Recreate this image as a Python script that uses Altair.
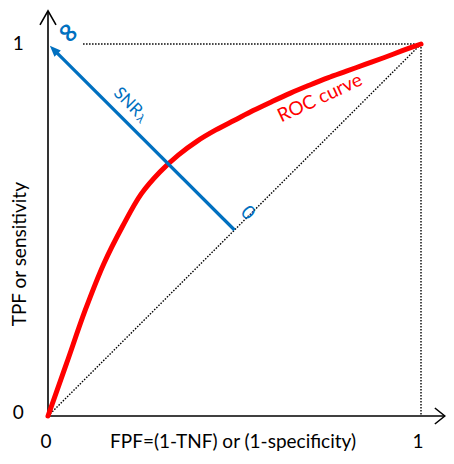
import altair as alt
import pandas as pd

# ROC curve (FPF, TPF)
roc_fpf = [0.0, 0.05, 0.10, 0.15, 0.20, 0.25, 0.30, 0.35, 0.40, 0.45, 0.50,
           0.55, 0.60, 0.65, 0.70, 0.75, 0.80, 0.85, 0.90, 0.95, 1.0]
roc_tpf = [0.0, 0.142, 0.285, 0.41, 0.51, 0.597, 0.656, 0.702, 0.739, 0.769, 0.795,
           0.821, 0.845, 0.868, 0.889, 0.909, 0.927, 0.945, 0.963, 0.982, 1.0]

# SNR arrow from (0.5, 0.5) towards (0, 1)
snr_fpf = [0.5, 0.018]
snr_tpf = [0.5, 0.982]
snr_tip = [0.005, 0.995]

# dotted reference lines: chance diagonal, top and right borders
dot_x = [0.0, 0.094, 1.0]
dot_y = [0.0, 1.0, 1.0]
dot_x2 = [1.0, 1.0, 1.0]
dot_y2 = [1.0, 1.0, 0.0]

# tick labels
tick_labels = ["0", "1"]

FONT = "Lato"
BLUE = "#0070C0"
RED = "#FF0000"

xs = alt.Scale(domain=[0, 1], nice=False, zero=False)
ys = alt.Scale(domain=[0, 1], nice=False, zero=False)


def X(f, **k):
    return alt.X(f, type="quantitative", scale=xs, axis=None, **k)


def Y(f, **k):
    return alt.Y(f, type="quantitative", scale=ys, axis=None, **k)


# axes lines (with arrow ends)
axes_df = pd.DataFrame({"x": [0.0, 0.0], "y": [0.0, 0.0],
                        "x2": [1.064, 0.0], "y2": [0.0, 1.089]})
axes = alt.Chart(axes_df).mark_rule(color="black", strokeWidth=1.6).encode(
    x=X("x"), y=Y("y"), x2="x2", y2="y2")

chev_right = alt.Chart(pd.DataFrame({"x": [1.064], "y": [0.0]})).mark_point(
    shape="M -1.25 -1 L 0 0 L -1.25 1", size=256, filled=False,
    stroke="black", strokeWidth=1.6, opacity=1).encode(x=X("x"), y=Y("y"))
chev_up = alt.Chart(pd.DataFrame({"x": [0.0], "y": [1.089]})).mark_point(
    shape="M -1 1.75 L 0 0 L 1 1.75", size=256, filled=False,
    stroke="black", strokeWidth=1.6, opacity=1).encode(x=X("x"), y=Y("y"))

dots_df = pd.DataFrame({"x": dot_x, "y": dot_y, "x2": dot_x2, "y2": dot_y2})
dots = alt.Chart(dots_df).mark_rule(color="black", strokeWidth=1.4,
                                    strokeDash=[1.5, 1.5]).encode(
    x=X("x"), y=Y("y"), x2="x2", y2="y2")

roc_df = pd.DataFrame({"fpf": roc_fpf, "tpf": roc_tpf, "o": range(len(roc_fpf))})
roc = alt.Chart(roc_df).mark_line(color=RED, strokeWidth=5, interpolate="catmull-rom",
                                  strokeCap="round").encode(
    x=X("fpf"), y=Y("tpf"), order="o:Q")

snr_df = pd.DataFrame({"x": [snr_fpf[0]], "y": [snr_tpf[0]],
                       "x2": [snr_fpf[1]], "y2": [snr_tpf[1]]})
snr = alt.Chart(snr_df).mark_rule(color=BLUE, strokeWidth=3.2).encode(
    x=X("x"), y=Y("y"), x2="x2", y2="y2")
snr_head = alt.Chart(pd.DataFrame({"x": [snr_tip[0]], "y": [snr_tip[1]]})).mark_point(
    shape="M 0 0 L -0.9 2.2 L 0.9 2.2 Z", size=100, filled=True, fill=BLUE,
    strokeWidth=0, opacity=1, angle=315).encode(x=X("x"), y=Y("y"))

# text annotations
lab_df = pd.DataFrame({
    "text": [tick_labels[1], tick_labels[0], tick_labels[0], tick_labels[1],
             "FPF=(1-TNF) or (1-specificity)"],
    "x": [-0.080, -0.080, -0.005, 0.992, 0.496],
    "y": [1.0, 0.008, -0.071, -0.071, -0.071],
})
labels = alt.Chart(lab_df).mark_text(font=FONT, fontSize=19, color="black",
                                     baseline="middle", align="center").encode(
    x=X("x"), y=Y("y"), text="text:N")

ytitle = alt.Chart(pd.DataFrame({"t": ["TPF or sensitivity"], "x": [-0.075], "y": [0.435]})).mark_text(
    font=FONT, fontSize=19, color="black", angle=270, baseline="middle", align="center").encode(
    x=X("x"), y=Y("y"), text="t:N")

inf = alt.Chart(pd.DataFrame({"t": ["∞"], "x": [0.054], "y": [1.030]})).mark_text(
    font="DejaVu Sans", fontSize=27, fontWeight="bold", color=BLUE, angle=45,
    baseline="middle", align="center").encode(x=X("x"), y=Y("y"), text="t:N")

snr_lab = alt.Chart(pd.DataFrame({"t": ["SNR"], "x": [0.214], "y": [0.844]})).mark_text(
    font=FONT, fontSize=17, color=BLUE, angle=45, baseline="middle", align="center").encode(
    x=X("x"), y=Y("y"), text="t:N")
lam_lab = alt.Chart(pd.DataFrame({"t": ["λ"], "x": [0.249], "y": [0.799]})).mark_text(
    font=FONT, fontSize=12, color=BLUE, angle=45, baseline="middle", align="center").encode(
    x=X("x"), y=Y("y"), text="t:N")
zero_lab = alt.Chart(pd.DataFrame({"t": ["0"], "x": [0.536], "y": [0.546]})).mark_text(
    font=FONT, fontSize=19, color=BLUE, angle=45, baseline="middle", align="center").encode(
    x=X("x"), y=Y("y"), text="t:N")
roc_lab = alt.Chart(pd.DataFrame({"t": ["ROC curve"], "x": [0.729], "y": [0.855]})).mark_text(
    font=FONT, fontSize=19, color=RED, angle=335, baseline="middle", align="center").encode(
    x=X("x"), y=Y("y"), text="t:N")

chart = alt.layer(dots, axes, chev_right, chev_up, roc, snr, snr_head,
                  labels, ytitle, inf, snr_lab, lam_lab, zero_lab, roc_lab).properties(
    width=373, height=372,
    autosize=alt.AutoSizeParams(type="none"),
    padding={"left": 40, "top": 36, "right": 25, "bottom": 40},
).configure_view(stroke=None)

chart.save("out.html", embed_options={"renderer": "svg", "actions": False})
